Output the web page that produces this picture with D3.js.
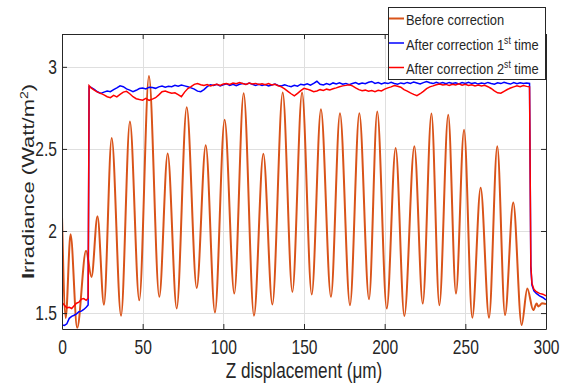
<!DOCTYPE html>
<html>
<head>
<meta charset="utf-8">
<script src="https://cdn.jsdelivr.net/npm/d3@7"></script>
<style>
  body { margin: 0; background: #fff; }
  text { font-family: "Liberation Sans", Arial, sans-serif; fill: #262626; }
</style>
</head>
<body>
<svg id="chart"></svg>
<script>
// Before correction: peaks and troughs
const beforeX = [0, 2.3, 5.3, 9.4, 14.9, 18.3, 22.0, 26.0,
    30.8, 36.6, 42.1, 47.9, 53.9, 60.3, 65.5, 71.1, 77.3, 83.5, 89.1, 94.8,
    100.8, 106.8, 112.6, 119.0, 124.8, 130.4, 136.8, 142.8, 148.8, 154.8,
    160.5, 166.7, 172.3, 178.5, 184.3, 190.3, 195.4, 201.3, 206.8, 212.2,
    218.4, 223.6, 229.0, 233.9, 239.4, 244.2, 249.2, 254.3, 259.5, 264.7,
    269.8, 274.6, 279.7, 284.9, 288.4, 292.1, 294.2, 295.3, 296.3, 297.5, 300];
const beforeY = [2.09, 1.47, 1.98, 1.41, 1.88, 1.72, 2.09, 1.55,
    2.567, 1.484, 2.667, 1.578, 2.944, 1.599, 2.472, 1.528, 2.754, 1.653, 2.522, 1.504,
    2.677, 1.619, 2.839, 1.484, 2.47, 1.552, 2.843, 1.629, 2.843, 1.613,
    2.742, 1.599, 2.718, 1.548, 2.718, 1.584, 2.728, 1.528, 2.506, 1.482,
    2.516, 1.558, 2.716, 1.548, 2.708, 1.619, 2.617, 1.472, 2.264, 1.472,
    2.516, 1.488, 2.174, 1.427, 1.65, 1.518, 1.558, 1.54, 1.548, 1.56, 1.555];

// After correction (both runs share the same sample positions)
const afterX = [0, 1.5, 3, 4.5, 6, 7.5, 9, 10.5, 12, 13.5, 15, 16.2, 16.8,
    18, 20, 22, 24, 26, 28, 30, 32, 34, 36,
    38, 40, 42, 44, 46, 48, 50, 52, 54, 56,
    58, 60, 62, 64, 66, 68, 70, 72, 74, 76,
    78, 80, 82, 84, 86, 88, 90, 92, 94, 96,
    98, 100, 102, 104, 106, 108, 110, 112, 114, 116,
    118, 120, 122, 124, 126, 128, 130, 132, 134, 136,
    138, 140, 142, 144, 146, 148, 150, 152, 154, 156,
    158, 160, 162, 164, 166, 168, 170, 172, 174, 176,
    178, 180, 182, 184, 186, 188, 190, 192, 194, 196,
    198, 200, 202, 204, 206, 208, 210, 212, 214, 216,
    218, 220, 222, 224, 226, 228, 230, 232, 234, 236,
    238, 240, 242, 244, 246, 248, 250, 252, 254, 256,
    258, 260, 262, 264, 266, 268, 270, 272, 274, 276,
    278, 280, 282, 284, 286, 288,
    289.8, 290.6, 291.3, 292.5, 294, 296, 298, 300];

const blueY = [1.427, 1.425, 1.435, 1.468, 1.48, 1.487, 1.495, 1.508, 1.512, 1.522, 1.535, 1.55, 2.88,
    2.875, 2.862, 2.848, 2.838, 2.846, 2.852, 2.849, 2.861, 2.872, 2.884,
    2.879, 2.866, 2.858, 2.849, 2.857, 2.868, 2.871, 2.865, 2.876, 2.874,
    2.869, 2.878, 2.883, 2.876, 2.881, 2.879, 2.887, 2.882, 2.889, 2.884,
    2.879, 2.872, 2.864, 2.852, 2.849, 2.861, 2.879, 2.891, 2.886, 2.893,
    2.884, 2.89, 2.896, 2.887, 2.893, 2.885, 2.894, 2.899, 2.892, 2.901,
    2.894, 2.887, 2.893, 2.886, 2.892, 2.884, 2.889, 2.895, 2.886, 2.883,
    2.891, 2.884, 2.879, 2.888, 2.882, 2.894, 2.889, 2.897, 2.888, 2.899,
    2.912, 2.894, 2.889, 2.898, 2.891, 2.902, 2.896, 2.903, 2.894, 2.899,
    2.891, 2.898, 2.904, 2.895, 2.902, 2.897, 2.906, 2.911, 2.899, 2.904,
    2.896, 2.903, 2.898, 2.906, 2.899, 2.894, 2.902, 2.897, 2.905, 2.899,
    2.908, 2.902, 2.896, 2.904, 2.911, 2.903, 2.898, 2.906, 2.899, 2.904,
    2.897, 2.905, 2.898, 2.903, 2.896, 2.904, 2.899, 2.906, 2.898, 2.903,
    2.895, 2.902, 2.897, 2.905, 2.899, 2.894, 2.903, 2.898, 2.906, 2.9,
    2.895, 2.904, 2.897, 2.903, 2.898, 2.902,
    2.899, 1.78, 1.67, 1.635, 1.62, 1.605, 1.595, 1.58];

const redY = [1.565, 1.548, 1.532, 1.535, 1.528, 1.545, 1.56, 1.566, 1.585, 1.588, 1.578, 1.59, 2.885,
    2.872, 2.858, 2.846, 2.838, 2.829, 2.818, 2.812, 2.826, 2.817, 2.832,
    2.846, 2.851, 2.836, 2.818, 2.806, 2.801, 2.797, 2.808, 2.796, 2.803,
    2.812, 2.829, 2.848, 2.852, 2.845, 2.839, 2.842, 2.831, 2.818, 2.846,
    2.868, 2.879, 2.893, 2.898, 2.891, 2.886, 2.892, 2.884, 2.889, 2.894,
    2.887, 2.895, 2.899, 2.893, 2.901, 2.897, 2.904, 2.898, 2.893, 2.901,
    2.895, 2.899, 2.892, 2.897, 2.891, 2.898, 2.889, 2.894, 2.885, 2.878,
    2.866, 2.851, 2.836, 2.823, 2.838, 2.855, 2.869, 2.864, 2.857, 2.849,
    2.853, 2.861, 2.856, 2.864, 2.859, 2.866, 2.872, 2.879, 2.884, 2.887,
    2.891, 2.884, 2.872, 2.861, 2.854, 2.858, 2.851, 2.856, 2.849, 2.857,
    2.853, 2.864, 2.872, 2.878, 2.886, 2.882, 2.876, 2.861, 2.852, 2.841,
    2.832, 2.824, 2.836, 2.851, 2.867, 2.878, 2.884, 2.891, 2.895, 2.889,
    2.893, 2.887, 2.894, 2.889, 2.896, 2.888, 2.893, 2.886, 2.891, 2.884,
    2.889, 2.883, 2.887, 2.879, 2.868, 2.854, 2.842, 2.839, 2.851, 2.862,
    2.871, 2.878, 2.885, 2.879, 2.886, 2.881,
    2.878, 1.79, 1.68, 1.645, 1.63, 1.62, 1.615, 1.605];

const xTicks = [0, 50, 100, 150, 200, 250, 300];
const yTicks = [1.5, 2, 2.5, 3];
const legendLabels = [
    ["Before correction", "", ""],
    ["After correction 1", "st", " time"],
    ["After correction 2", "st", " time"]
];
const colors = ["#d95319", "#0000ff", "#ff0000"];

const margin = { top: 34, right: 22, bottom: 60, left: 62 },
    width = 568 - margin.left - margin.right,
    height = 389 - margin.top - margin.bottom;

const root = d3.select("#chart").attr("width", 568).attr("height", 389);
const svg = root.append("g")
    .attr("transform", "translate(" + margin.left + "," + margin.top + ")");

// text in the picture is narrow, squeeze it horizontally
const squeeze = (sel, k) => {
    sel.each(function () {
        const t = d3.select(this);
        const x = +t.attr("x") || 0;
        t.attr("x", x / k).attr("transform", "scale(" + k + ",1)");
    });
};

const x = d3.scaleLinear().domain([0, 300]).range([0, width]);
const y = d3.scaleLinear().domain([1.403, 3.2]).range([height, 0]);

// grid
svg.append("g").selectAll("line")
    .data(xTicks.slice(1, -1))
    .enter().append("line")
    .attr("x1", d => Math.round(x(d)) + 0.5).attr("x2", d => Math.round(x(d)) + 0.5)
    .attr("y1", 0).attr("y2", height)
    .attr("stroke", "#dfdfdf");
svg.append("g").selectAll("line")
    .data(yTicks)
    .enter().append("line")
    .attr("y1", d => Math.round(y(d)) + 0.5).attr("y2", d => Math.round(y(d)) + 0.5)
    .attr("x1", 0).attr("x2", width)
    .attr("stroke", "#dfdfdf");

svg.append("clipPath").attr("id", "clip")
    .append("rect").attr("width", width).attr("height", height);

const line = d3.line()
    .x(d => x(d[0]))
    .y(d => y(d[1]));

const plot = svg.append("g").attr("clip-path", "url(#clip)");

plot.append("path")
    .datum(beforeX.map((d, i) => [d, beforeY[i]]))
    .attr("fill", "none")
    .attr("stroke", colors[0])
    .attr("stroke-width", 2)
    .attr("d", line.curve(d3.curveMonotoneX));

line.curve(d3.curveLinear);

plot.append("path")
    .datum(afterX.map((d, i) => [d, blueY[i]]))
    .attr("fill", "none")
    .attr("stroke", colors[1])
    .attr("stroke-width", 1.5)
    .attr("d", line);

plot.append("path")
    .datum(afterX.map((d, i) => [d, redY[i]]))
    .attr("fill", "none")
    .attr("stroke", colors[2])
    .attr("stroke-width", 1.5)
    .attr("d", line);

// axes box with inward ticks
svg.append("g")
    .attr("transform", "translate(0," + height + ")")
    .call(d3.axisBottom(x).tickValues(xTicks).tickSizeInner(-5).tickSizeOuter(0).tickPadding(11));
svg.append("g")
    .call(d3.axisLeft(y).tickValues(yTicks).tickSizeInner(-5).tickSizeOuter(0).tickPadding(5)
        .tickFormat(d3.format("")));
svg.append("g")
    .attr("transform", "translate(" + width + ",0)")
    .call(d3.axisRight(y).tickValues(yTicks).tickSizeInner(-5).tickSizeOuter(0).tickFormat(""));
svg.append("g")
    .call(d3.axisTop(x).tickValues(xTicks).tickSizeInner(-5).tickSizeOuter(0).tickFormat(""));

svg.selectAll(".domain, .tick line").attr("stroke", "#262626");
svg.selectAll(".tick text")
    .attr("font-size", "20px")
    .attr("font-family", "Liberation Sans, Arial, sans-serif")
    .attr("fill", "#262626")
    .call(squeeze, 0.78);

// axis titles
svg.append("text")
    .attr("x", width / 2)
    .attr("y", height + 49)
    .attr("font-size", "22px")
    .style("text-anchor", "middle")
    .text("Z displacement (μm)")
    .call(squeeze, 0.78);

const yl = svg.append("text")
    .attr("transform", "translate(-28," + (height / 2) + ") scale(0.78,1) rotate(-90)")
    .attr("font-size", "22px")
    .style("text-anchor", "middle");
yl.append("tspan").attr("font-weight", "bold").text("I");
yl.append("tspan").text("rradiance (Watt/m");
yl.append("tspan").attr("font-size", "14px").attr("dy", -8).text("2");
yl.append("tspan").attr("dy", 8).text(")");

// legend
const legend = root.append("g");
legend.append("rect")
    .attr("x", 388.5).attr("y", 7.5)
    .attr("width", 157).attr("height", 72)
    .attr("fill", "#fff")
    .attr("stroke", "#262626");

const rowY = [25.5, 50, 74.5];
legendLabels.forEach((lab, i) => {
    legend.append("line")
        .attr("x1", 389).attr("x2", 404)
        .attr("y1", rowY[i] - 7).attr("y2", rowY[i] - 7)
        .attr("stroke", colors[i])
        .attr("stroke-width", i === 0 ? 2 : 1.5);
    const t = legend.append("text")
        .attr("x", 406).attr("y", rowY[i])
        .attr("font-size", "15px");
    t.append("tspan").text(lab[0]);
    if (lab[1]) {
        t.append("tspan").attr("font-size", "10px").attr("dy", -6).text(lab[1]);
        t.append("tspan").attr("dy", 6).text(lab[2]);
    }
    t.call(squeeze, 0.86);
});
</script>
</body>
</html>
